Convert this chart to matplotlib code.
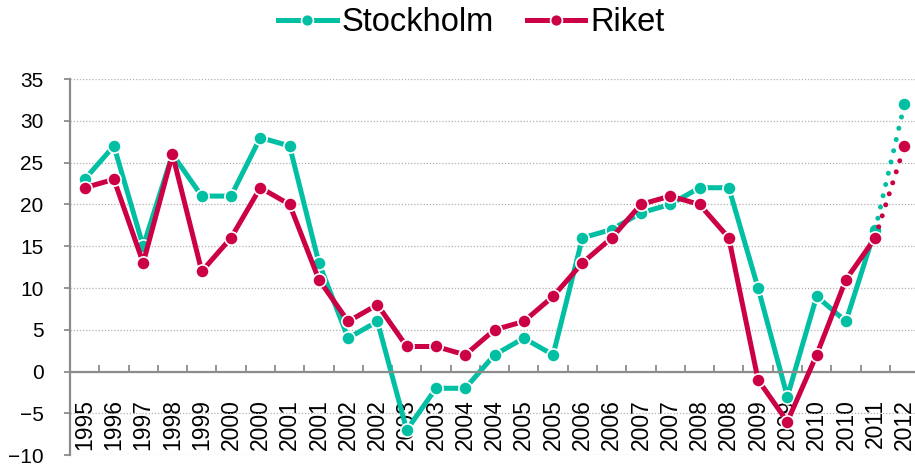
#!/usr/bin/env python3
"""Stockholm vs Riket, yearly change (%), line chart with dotted forecast segment."""
import numpy as np
import matplotlib
matplotlib.use("Agg")
import matplotlib.pyplot as plt

# Category labels as they appear on the x-axis
YEARS = ["1995", "1996", "1997", "1998", "1999", "2000", "2000", "2001", "2001",
         "2002", "2002", "2003", "2003", "2004", "2004", "2005", "2005", "2006",
         "2006", "2007", "2007", "2008", "2008", "2009", "2009", "2010", "2010",
         "2011", "2012"]

STOCKHOLM = [23, 27, 15, 26, 21, 21, 28, 27, 13, 4, 6, -7, -2, -2, 2, 4, 2, 16,
             17, 19, 20, 22, 22, 10, -3, 9, 6, 17, 32]
RIKET = [22, 23, 13, 26, 12, 16, 22, 20, 11, 6, 8, 3, 3, 2, 5, 6, 9, 13,
         16, 20, 21, 20, 16, -1, -6, 2, 11, 16, 27]

# last segment (2011 -> 2012) is drawn dotted
N_SOLID = 28

TEAL = "#00BFA3"
RED = "#CC0044"
GREY = "#8C8C8C"

plt.rcParams["font.family"] = ["Liberation Sans", "DejaVu Sans"]

fig = plt.figure(figsize=(9.15, 4.68), dpi=100)
ax = fig.add_axes([0.0765, 0.0275, 0.928, 0.8035])

x = np.arange(len(YEARS))
series = [("Stockholm", STOCKHOLM, TEAL, 2), ("Riket", RIKET, RED, 3)]
handles = []
for name, vals, color, z in series:
    vals = np.array(vals, dtype=float)
    # dotted forecast part
    ax.plot(x[N_SOLID - 1:], vals[N_SOLID - 1:], color=color, lw=3.6,
            linestyle=(0, (0.01, 2.3)), dash_capstyle="round", zorder=z)
    h, = ax.plot(x[:N_SOLID], vals[:N_SOLID], color=color, lw=3.6,
                 marker="o", markersize=9.5, markerfacecolor=color,
                 markeredgecolor="white", markeredgewidth=1.2,
                 solid_joinstyle="round", zorder=z, label=name)
    ax.plot(x[-1], vals[-1], marker="o", markersize=9.5, color=color,
            markeredgecolor="white", markeredgewidth=1.2, zorder=z + 0.5)
    handles.append(h)

ax.set_xlim(-0.5, len(YEARS) - 0.5)
ax.set_ylim(-10, 35)
ax.set_yticks(np.arange(-10, 36, 5))

# dotted horizontal gridlines
ax.grid(axis="y", color="#B0B0B0", linestyle=(0, (1, 1.5)), lw=0.9)
ax.grid(axis="x", visible=False)
ax.set_axisbelow(True)

for s in ["top", "right"]:
    ax.spines[s].set_visible(False)
ax.spines["left"].set_color(GREY)
ax.spines["left"].set_linewidth(1.6)
ax.spines["bottom"].set_position(("data", 0))
ax.spines["bottom"].set_color(GREY)
ax.spines["bottom"].set_linewidth(1.6)

# labels under the plot, tick marks between categories on the zero line
ax.set_xticks(x)
ax.set_xticklabels(YEARS, rotation=90, fontsize=16.5)
ax.set_xticks(x[:-1] + 0.5, minor=True)
ax.tick_params(axis="x", which="major", length=0, pad=20)
ax.tick_params(axis="x", which="minor", direction="in", length=5,
               width=1.3, color=GREY)
ax.tick_params(axis="y", length=4, width=1.3, color=GREY, pad=15,
               labelsize=15)

fig.legend(handles=handles, loc="center", bbox_to_anchor=(0.515, 0.952),
           ncol=2, frameon=False, fontsize=23.5, handlelength=1.8,
           handletextpad=0.15, columnspacing=1.0, markerscale=0.9)

fig.savefig("out.png", dpi=100)
